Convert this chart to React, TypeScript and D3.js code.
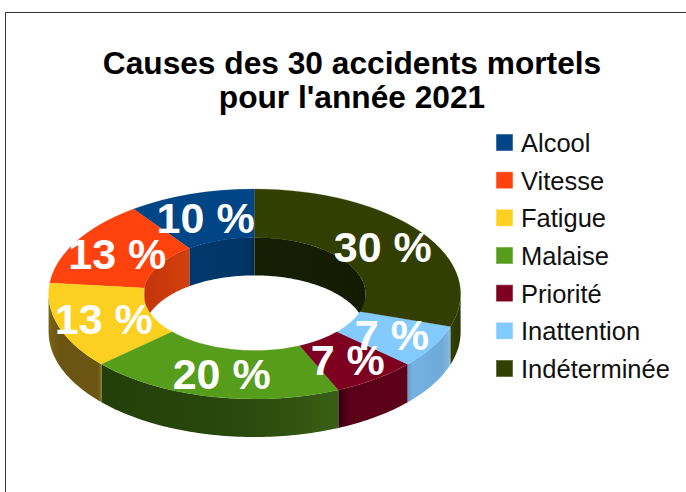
import React from "react";
import * as d3 from "d3";

const categories = ["Alcool", "Vitesse", "Fatigue", "Malaise", "Priorité", "Inattention", "Indéterminée"];
const counts = [3, 4, 4, 6, 2, 2, 9];
const percentLabels = ["10 %", "13 %", "13 %", "20 %", "7 %", "7 %", "30 %"];
const colors = ["#004586", "#ff420e", "#fcd020", "#579d1c", "#7e0021", "#83caff", "#333f02"];
const titleLines = ["Causes des 30 accidents mortels", "pour l'année 2021"];

const outerWallStops: Record<number, [number, string][]> = {
  2: [[0, "#7a6416"], [0.2, "#6c5512"], [0.93, "#6b5512"], [0.97, "#7a6416"], [1, "#96801f"]],
  3: [[0, "#243f0a"], [0.6, "#294a0c"], [0.85, "#325612"], [1, "#3a6015"]],
  4: [[0, "#2f000c"], [0.15, "#5a0018"], [1, "#5e0019"]],
  5: [[0, "#64a0cc"], [0.12, "#74b2e2"], [0.8, "#6fa9d8"], [1, "#86bde4"]],
  6: [[0, "#333f02"], [1, "#2a3503"]],
};
const innerWallStops: Record<number, [number, string][]> = {
  1: [[0, "#c4340b"], [0.5, "#cc3a0c"], [1, "#d3400e"]],
  0: [[0, "#00386c"], [0.75, "#003768"], [0.92, "#00315e"], [1, "#002a50"]],
  6: [[0, "#171e02"], [1, "#151b02"]],
};

const W = 686, H = 492;
const cx = 254.6, cy = 294, rx = 206, rxInner = 111, ry = 105, depth = 38;
const k = ry / rx;
const TAU = Math.PI * 2;

const pie = d3.pie<number>().sort(null).startAngle(0).endAngle(TAU);
const arcs = pie(counts);
const topArc = d3.arc<d3.PieArcDatum<number>>().outerRadius(rx).innerRadius(rxInner).padAngle(0);
const line = d3.line<[number, number]>();

const pt = (t: number, r: number, dy: number): [number, number] => [
  cx - r * Math.sin(t),
  cy - r * k * Math.cos(t) + dy,
];

function wall(a0: number, a1: number, r: number) {
  const n = Math.max(2, Math.ceil((a1 - a0) / 0.02));
  const ts = d3.range(n + 1).map((i) => a0 + ((a1 - a0) * i) / n);
  const pts = [...ts.map((t) => pt(t, r, 0)), ...ts.slice().reverse().map((t) => pt(t, r, depth))];
  return line(pts) + "Z";
}

function Gradient({ id, stops }: { id: string; stops: [number, string][] }) {
  return (
    <linearGradient id={id} x1="0" x2="1" y1="0" y2="0">
      {stops.map(([o, c], i) => (
        <stop key={i} offset={o} stopColor={c} />
      ))}
    </linearGradient>
  );
}

export default function App() {
  const fontFamily = "'Liberation Sans', Arial, sans-serif";
  const legendY = d3.scalePoint<string>().domain(categories).range([152, 378]);
  return (
    <svg width={W} height={H} style={{ position: "absolute", left: 0, top: 0, background: "#fff" }} fontFamily={fontFamily}>
      <defs>
        {Object.entries(outerWallStops).map(([i, s]) => (
          <Gradient key={i} id={`outer${i}`} stops={s} />
        ))}
        {Object.entries(innerWallStops).map(([i, s]) => (
          <Gradient key={i} id={`inner${i}`} stops={s} />
        ))}
      </defs>
      <path d={`M5.5 ${H}V12.5H${W}`} fill="none" stroke="#333" strokeWidth={1} />
      <text x={352} textAnchor="middle" fontWeight="bold" fontSize={31.7} fill="#000">
        {titleLines.map((t, i) => (
          <tspan key={i} x={352} y={74 + i * 33.5}>{t}</tspan>
        ))}
      </text>

      {arcs.map((a, i) => {
        const from = a.startAngle;
        const to = a.endAngle;
        const parts: [number, number][] = [
          [Math.max(from, 0), Math.min(to, Math.PI / 2)],
          [Math.max(from, (3 * Math.PI) / 2), Math.min(to, TAU)],
        ];
        return parts
          .filter(([p, q]) => q > p)
          .map(([p, q], j) => (
            <path key={`i${i}-${j}`} d={wall(p, q, rxInner)} fill={innerWallStops[i] ? `url(#inner${i})` : colors[i]} />
          ));
      })}
      {arcs.map((a, i) => {
        const p = Math.max(a.startAngle, Math.PI / 2);
        const q = Math.min(a.endAngle, (3 * Math.PI) / 2);
        if (q <= p) return null;
        return <path key={`o${i}`} d={wall(p, q, rx)} fill={`url(#outer${i})`} />;
      })}
      <g transform={`translate(${cx},${cy}) scale(-1,${k})`}>
        {arcs.map((a, i) => (
          <path key={i} d={topArc(a) ?? ""} fill={colors[i]} stroke={colors[i]} strokeWidth={0.3} />
        ))}
      </g>
      {arcs.map((a, i) => {
        const mid = (a.startAngle + a.endAngle) / 2;
        const [x, y] = pt(mid, (rx + rxInner) / 2, 0);
        return (
          <text key={i} x={x} y={y + 15.5} textAnchor="middle" fontWeight="bold" fontSize={43} fill="#fff">
            {percentLabels[i]}
          </text>
        );
      })}
      {categories.map((c, i) => {
        const y = legendY(c) ?? 0;
        return (
          <g key={c}>
            <rect x={496.5} y={y - 17.5} width={16} height={16} fill={colors[i]} stroke={colors[i]} strokeOpacity={0.5} />
            <text x={521} y={y} fontSize={25.5} fill="#111">{c}</text>
          </g>
        );
      })}
    </svg>
  );
}
